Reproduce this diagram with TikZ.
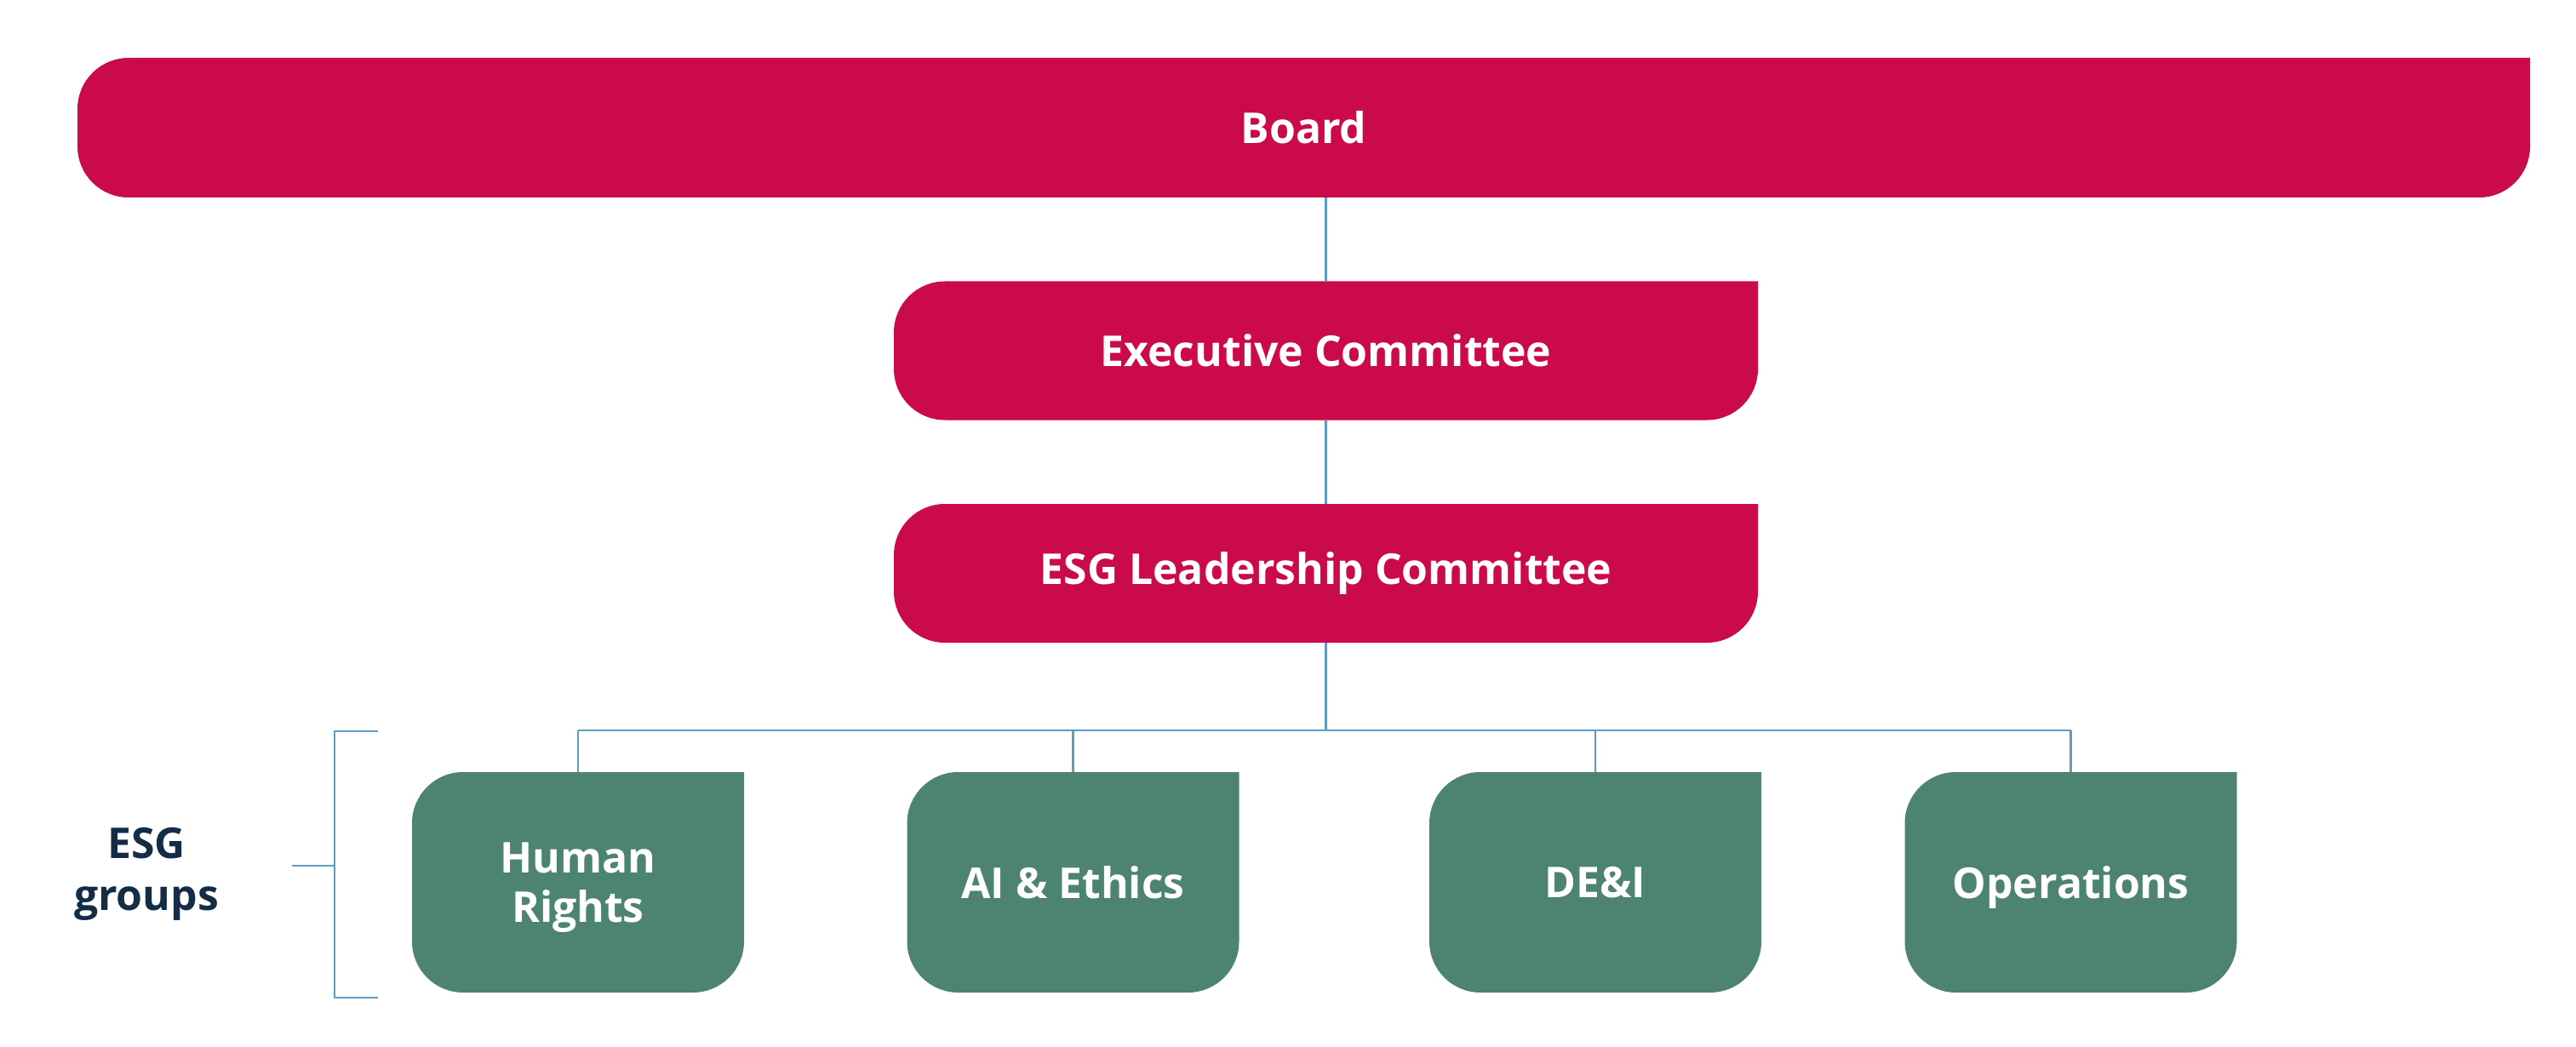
\documentclass[tikz,border=0pt]{standalone}
\usepackage{fontspec}
\setmainfont{Open Sans}
\usetikzlibrary{backgrounds}
\definecolor{esgred}{HTML}{CB0A4B}
\definecolor{esggreen}{HTML}{4D8471}
\definecolor{esgline}{HTML}{5E9CC4}
\definecolor{esgnavy}{HTML}{132D46}
\tikzset{
  boxfont/.style={font=\fontsize{14.2}{16.4}\selectfont\bfseries},
  redbox/.style={boxfont, text=white, inner sep=0pt, outer sep=0pt, minimum width=10.15cm, minimum height=1.63cm},
  greenbox/.style={boxfont, text=white, inner sep=0pt, outer sep=0pt, minimum width=3.9cm, minimum height=2.59cm, align=center},
  link/.style={draw=esgline, line width=0.6pt}
}
\begin{document}
\begin{tikzpicture}
        \useasboundingbox (0,0) rectangle (30.26,12.29);
        \node[redbox, minimum width=28.81cm, minimum height=1.64cm] (board) at (15.315, 10.79) {Board};
        \node[redbox] (exec) at (15.575, 8.17) {Executive Committee};
        \node[redbox] (esglc) at (15.575, 5.555) {ESG Leadership Committee};
        \node[greenbox, text depth=0pt] (hr) at (6.79, 1.925) {Human\\Rights};
        \node[greenbox] (ai) at (12.605, 1.925) {AI \& Ethics};
        \node[greenbox] (dei) at (18.74, 1.925) {DE\&I};
        \node[greenbox, text depth=0pt] (ops) at (24.325, 1.925) {Operations};
        \node[boxfont, text=esgnavy, align=center, text depth=0pt] (groups) at (1.72, 2.08) {ESG\\[1pt]groups};
        \begin{pgfonlayer}{background}
        \foreach \n/\c in {board/esgred, exec/esgred, esglc/esgred, hr/esggreen, ai/esggreen, dei/esggreen, ops/esggreen}
            \fill[\c] (\n.north east) -- ([yshift=0.6cm]\n.south east)
                arc[start angle=0, end angle=-90, radius=0.6cm] -- ([xshift=0.6cm]\n.south west)
                arc[start angle=270, end angle=180, radius=0.6cm] -- ([yshift=-0.6cm]\n.north west)
                arc[start angle=180, end angle=90, radius=0.6cm] -- cycle;
        \end{pgfonlayer}
        \coordinate (bus) at (15.575, 3.71);
        \coordinate (brtop) at (3.93, 3.70);
        \coordinate (brbot) at (3.93, 0.57);
        \coordinate (brmid) at (3.93, 2.12);
        \coordinate (brtick) at (3.43, 2.12);
        \draw[link] (exec.north) -- (exec.north |- board.south);
        \draw[link] (esglc.north) -- (exec.south);
        \draw[link] (esglc.south) -- (bus);
        \draw[link] (hr.north |- bus) -- (ops.north |- bus);
        \foreach \n in {hr, ai, dei, ops}
            \draw[link] (\n.north) -- (\n.north |- bus);
        \draw[link] ([xshift=0.51cm]brtop) -- (brtop) -- (brbot) -- ([xshift=0.51cm]brbot);
        \draw[link] (brtick) -- (brmid);
\end{tikzpicture}
\end{document}
